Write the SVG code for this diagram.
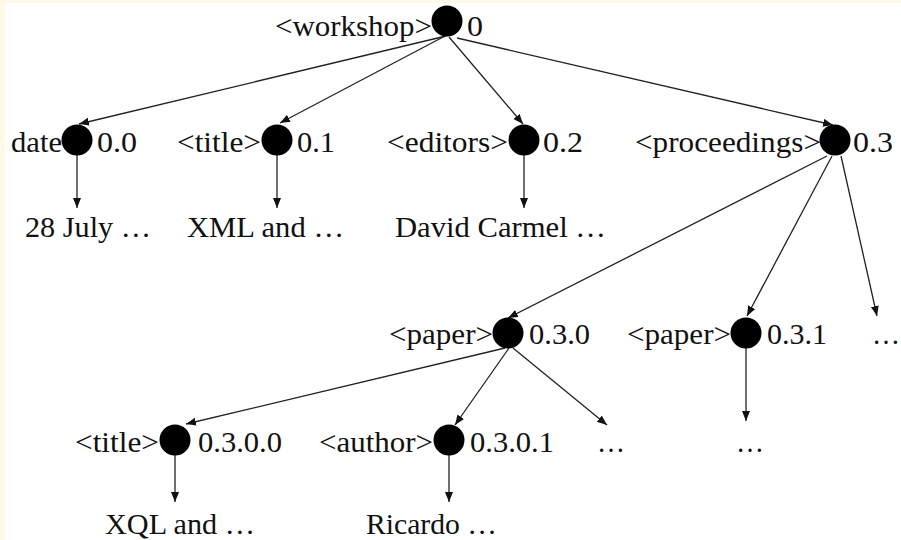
<svg xmlns="http://www.w3.org/2000/svg" width="901" height="540" viewBox="0 0 901 540">
<style>
text{font-family:"Liberation Serif",Tinos,"Nimbus Roman","Nimbus Roman No9 L",FreeSerif,"Times New Roman",Times,"Noto Serif","DejaVu Serif",serif;font-size:30px;fill:#111}
.l{text-anchor:end}
.n{fill:#000}
.e line{stroke:#222;stroke-width:1.3;marker-end:url(#ah)}
</style>
<defs>
<marker id="ah" markerUnits="userSpaceOnUse" markerWidth="11" markerHeight="9" refX="10" refY="4" orient="auto">
<path d="M0,0 L10,4 L0,8 z" fill="#111"/>
</marker>
</defs>
<rect width="901" height="540" fill="#fff"/>
<rect width="5" height="540" fill="#fffae6"/>
<rect width="901" height="3" fill="#fffae6"/>
<g id="edges" class="e">
<line x1="446" y1="36" x2="79" y2="124"/>
<line x1="445" y1="36" x2="280" y2="123"/>
<line x1="449" y1="37" x2="523" y2="124"/>
<line x1="457" y1="38" x2="833" y2="125"/>
<line x1="77" y1="155" x2="77" y2="208"/>
<line x1="277" y1="155" x2="277" y2="208"/>
<line x1="524" y1="155" x2="524" y2="208"/>
<line x1="827" y1="156" x2="508" y2="318"/>
<line x1="832" y1="156" x2="747" y2="316"/>
<line x1="841" y1="156" x2="877" y2="316"/>
<line x1="505" y1="348" x2="186" y2="424"/>
<line x1="509" y1="348" x2="455" y2="425"/>
<line x1="513" y1="348" x2="607" y2="425"/>
<line x1="746" y1="348" x2="746" y2="421"/>
<line x1="175" y1="455" x2="175" y2="502"/>
<line x1="449" y1="455" x2="449" y2="502"/>
</g>
<g id="workshop"><circle class="n" cx="447" cy="21" r="15.5"/><text class="l" x="432" y="36" textLength="157" lengthAdjust="spacingAndGlyphs">&lt;workshop&gt;</text><text x="467" y="36" textLength="16" lengthAdjust="spacingAndGlyphs">0</text></g>
<g id="date"><circle class="n" cx="77" cy="140" r="15.5"/><text class="l" x="62" y="152" textLength="51" lengthAdjust="spacingAndGlyphs">date</text><text x="97" y="152" textLength="40" lengthAdjust="spacingAndGlyphs">0.0</text></g>
<g id="title"><circle class="n" cx="277" cy="140" r="15.5"/><text class="l" x="261" y="152" textLength="84" lengthAdjust="spacingAndGlyphs">&lt;title&gt;</text><text x="297" y="152" textLength="38" lengthAdjust="spacingAndGlyphs">0.1</text></g>
<g id="editors"><circle class="n" cx="524" cy="140" r="15.5"/><text class="l" x="508" y="152" textLength="121" lengthAdjust="spacingAndGlyphs">&lt;editors&gt;</text><text x="543" y="152" textLength="40" lengthAdjust="spacingAndGlyphs">0.2</text></g>
<g id="proceedings"><circle class="n" cx="835" cy="140" r="15.5"/><text class="l" x="821" y="152" textLength="186" lengthAdjust="spacingAndGlyphs">&lt;proceedings&gt;</text><text x="853" y="152" textLength="40" lengthAdjust="spacingAndGlyphs">0.3</text></g>
<g id="date-val"><text x="25" y="237" textLength="126" lengthAdjust="spacingAndGlyphs">28 July …</text></g>
<g id="title-val"><text x="187" y="237" textLength="157" lengthAdjust="spacingAndGlyphs">XML and …</text></g>
<g id="editors-val"><text x="395" y="237" textLength="211" lengthAdjust="spacingAndGlyphs">David Carmel …</text></g>
<g id="paper0"><circle class="n" cx="508" cy="333" r="15.5"/><text class="l" x="493" y="344" textLength="104" lengthAdjust="spacingAndGlyphs">&lt;paper&gt;</text><text x="529" y="344" textLength="61" lengthAdjust="spacingAndGlyphs">0.3.0</text></g>
<g id="paper1"><circle class="n" cx="746" cy="333" r="15.5"/><text class="l" x="731" y="344" textLength="104" lengthAdjust="spacingAndGlyphs">&lt;paper&gt;</text><text x="767" y="344" textLength="60" lengthAdjust="spacingAndGlyphs">0.3.1</text></g>
<g id="proc-more"><text x="872" y="344" textLength="28" lengthAdjust="spacingAndGlyphs">…</text></g>
<g id="title2"><circle class="n" cx="175" cy="440" r="15.5"/><text class="l" x="159" y="452" textLength="84" lengthAdjust="spacingAndGlyphs">&lt;title&gt;</text><text x="198" y="452" textLength="84" lengthAdjust="spacingAndGlyphs">0.3.0.0</text></g>
<g id="author"><circle class="n" cx="449" cy="440" r="15.5"/><text class="l" x="433" y="452" textLength="114" lengthAdjust="spacingAndGlyphs">&lt;author&gt;</text><text x="470" y="452" textLength="84" lengthAdjust="spacingAndGlyphs">0.3.0.1</text></g>
<g id="paper0-more"><text x="597" y="452" textLength="28" lengthAdjust="spacingAndGlyphs">…</text></g>
<g id="paper1-val"><text x="736" y="452" textLength="28" lengthAdjust="spacingAndGlyphs">…</text></g>
<g id="title2-val"><text x="105" y="534" textLength="150" lengthAdjust="spacingAndGlyphs">XQL and …</text></g>
<g id="author-val"><text x="366" y="534" textLength="131" lengthAdjust="spacingAndGlyphs">Ricardo …</text></g>
</svg>
